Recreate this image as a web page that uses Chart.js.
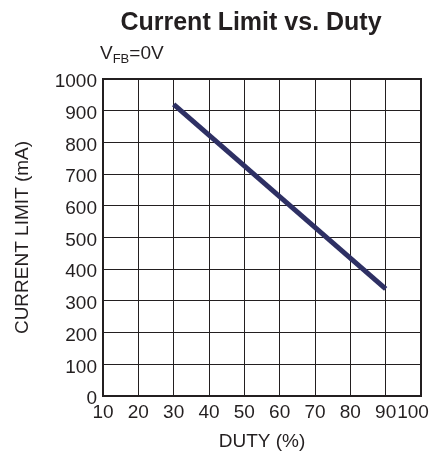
<!DOCTYPE html>
<html>
<head>
<meta charset="utf-8">
<script src="https://cdn.jsdelivr.net/npm/chart.js@4/dist/chart.umd.min.js"></script>
<style>
  html, body { margin: 0; padding: 0; background: #fff; }
  #wrap { width: 435px; height: 464px; }
</style>
</head>
<body>
<div id="wrap"><canvas id="chart" width="435" height="464"></canvas></div>
<script>
const dutyPct = [30, 90];
const currentLimitMa = [920, 338];
const xTicks = [10, 20, 30, 40, 50, 60, 70, 80, 90, 100];
const yTicks = [0, 100, 200, 300, 400, 500, 600, 700, 800, 900, 1000];

const FONT = '"Liberation Sans", Arial, sans-serif';
const INK = '#231f20';

// title + V_FB subtitle drawn by hand (needs the subscript)
const headerPlugin = {
  id: 'header',
  afterDraw(chart) {
    const c = chart.ctx;
    c.save();
    c.fillStyle = INK;
    c.textBaseline = 'alphabetic';
    c.font = 'bold 25px ' + FONT;
    c.textAlign = 'center';
    c.fillText('Current Limit vs. Duty', 251, 30);

    c.textAlign = 'left';
    let x = 100;
    c.font = '19px ' + FONT;
    c.fillText('V', x, 59);
    x += c.measureText('V').width;
    c.font = '13px ' + FONT;
    c.fillText('FB', x, 63);
    x += c.measureText('FB').width;
    c.font = '19px ' + FONT;
    c.fillText('=0V', x, 59);
    c.restore();
  }
};

new Chart(document.getElementById('chart'), {
  type: 'line',
  data: {
    datasets: [{
      data: dutyPct.map((d, i) => ({ x: d, y: currentLimitMa[i] })),
      borderColor: '#2e3064',
      borderWidth: 5,
      borderCapStyle: 'butt',
      pointRadius: 0,
      fill: false,
      tension: 0
    }]
  },
  options: {
    responsive: false,
    animation: false,
    layout: { padding: { top: 79, right: 14, left: 0, bottom: 0 } },
    plugins: { legend: { display: false }, tooltip: { enabled: false } },
    scales: {
      x: {
        type: 'linear',
        min: 10,
        max: 100,
        afterBuildTicks: (s) => { s.ticks = xTicks.map(v => ({ value: v })); },
        afterFit: (s) => { s.height = 68; s.paddingRight = 0; },
        ticks: {
          color: INK, font: { family: FONT, size: 19 }, padding: 5, maxRotation: 0, autoSkip: false,
          // last label is nudged left so it stays inside the picture
          callback: (v) => v === 100 ? '100\u00a0\u00a0\u00a0' : String(v)
        },
        grid: { color: INK, lineWidth: 1, drawTicks: false },
        border: { color: INK, width: 2 },
        title: { display: true, text: 'DUTY (%)', color: INK, font: { family: FONT, size: 19 }, padding: { top: 0, bottom: 11 } }
      },
      y: {
        min: 0,
        max: 1000,
        afterBuildTicks: (s) => { s.ticks = yTicks.map(v => ({ value: v })); },
        afterFit: (s) => { s.width = 103; },
        ticks: {
          color: INK, font: { family: FONT, size: 19 }, padding: 6, labelOffset: 3, autoSkip: false,
          callback: (v) => String(v)
        },
        grid: { color: INK, lineWidth: 1, drawTicks: false },
        border: { color: INK, width: 2 },
        title: { display: true, text: 'CURRENT LIMIT (mA)', color: INK, font: { family: FONT, size: 19 }, padding: { top: 11, bottom: 0 } }
      }
    }
  },
  plugins: [headerPlugin, {
    // full box around the plot
    id: 'frame',
    afterDatasetsDraw(chart) {
      const a = chart.chartArea, c = chart.ctx;
      c.save();
      c.strokeStyle = INK;
      c.lineWidth = 2;
      c.strokeRect(a.left, a.top, a.right - a.left, a.bottom - a.top);
      c.restore();
    }
  }]
});
</script>
</body>
</html>
